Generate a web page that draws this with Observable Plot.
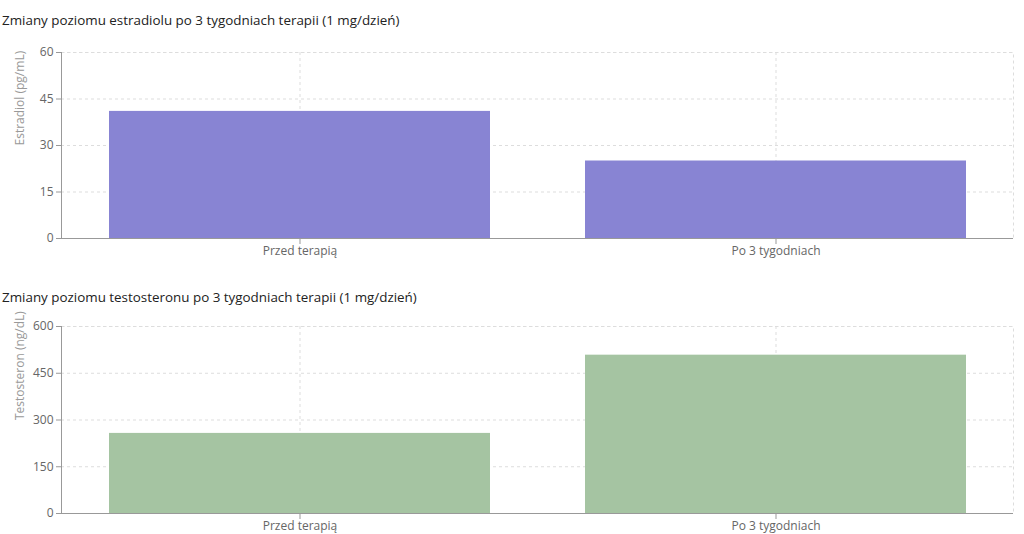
<!DOCTYPE html>
<html><head><meta charset="utf-8">
<script src="https://cdn.jsdelivr.net/npm/d3@7"></script>
<script src="https://cdn.jsdelivr.net/npm/@observablehq/plot@0.6"></script>
<style>
body{margin:0;background:#fff;font-family:"Open Sans",sans-serif;}
#wrap{position:relative;width:1024px;height:534px;overflow:hidden;}
.title{position:absolute;left:2px;font-size:13.4px;line-height:20px;color:#222;white-space:nowrap;z-index:2;}
.chart{position:absolute;left:0;}
.chart svg{overflow:visible;}
</style></head><body>
<div id="wrap">
<div class="title" style="top:10px">Zmiany poziomu estradiolu po 3 tygodniach terapii (1 mg/dzień)</div>
<div class="chart" id="c1" style="top:34px"></div>
<div class="title" style="top:287px">Zmiany poziomu testosteronu po 3 tygodniach terapii (1 mg/dzień)</div>
<div class="chart" id="c2" style="top:306px"></div>
</div>
<script>
const categories = ["Przed terapią", "Po 3 tygodniach"];
const estradiol = [41, 25];
const testosteron = [257, 508];
const estradiolTicks = [0, 15, 30, 45, 60];
const testosteronTicks = [0, 150, 300, 450, 600];
const estradiolLabel = "Estradiol (pg/mL)";
const testosteronLabel = "Testosteron (ng/dL)";

function chart(values, ticks, label, color, height, marginTop, marginBottom) {
  const data = categories.map((c, i) => ({cat: c, value: values[i]}));
  return Plot.plot({
    width: 1024, height, marginTop, marginLeft: 61, marginRight: 11, marginBottom,
    style: {fontFamily: "'Open Sans', sans-serif", fontSize: "12px", background: "transparent", overflow: "visible"},
    x: {domain: categories, paddingInner: 0.2, paddingOuter: 0.1, label: null},
    y: {domain: [ticks[0], ticks[ticks.length - 1]], label: null},
    marks: [
      Plot.frame({stroke: "#ddd", strokeDasharray: "3,3"}),
      Plot.gridY(ticks, {stroke: "#ddd", strokeOpacity: 1, strokeDasharray: "3,3"}),
      Plot.gridX(categories, {stroke: "#ddd", strokeOpacity: 1, strokeDasharray: "3,3"}),
      Plot.barY(data, {x: "cat", y: "value", fill: color}),
      Plot.ruleY([ticks[0]], {stroke: "#999"}),
      Plot.frame({anchor: "left", stroke: "#999"}),
      Plot.axisY(ticks, {tickSize: 5, tickPadding: 3, stroke: "#999", color: "#666", label: null}),
      Plot.axisX(categories, {tickSize: 6, tickPadding: 2, stroke: "#999", color: "#666", label: null}),
      Plot.text([label], {frameAnchor: "left", rotate: -90, textAnchor: "start", dx: -41, fill: "#999", fontSize: 12})
    ]
  });
}
document.getElementById("c1").appendChild(chart(estradiol, estradiolTicks, estradiolLabel, "#8884d3", 232, 18, 28));
document.getElementById("c2").appendChild(chart(testosteron, testosteronTicks, testosteronLabel, "#a5c4a2", 228, 20, 21));
</script>
</body></html>
